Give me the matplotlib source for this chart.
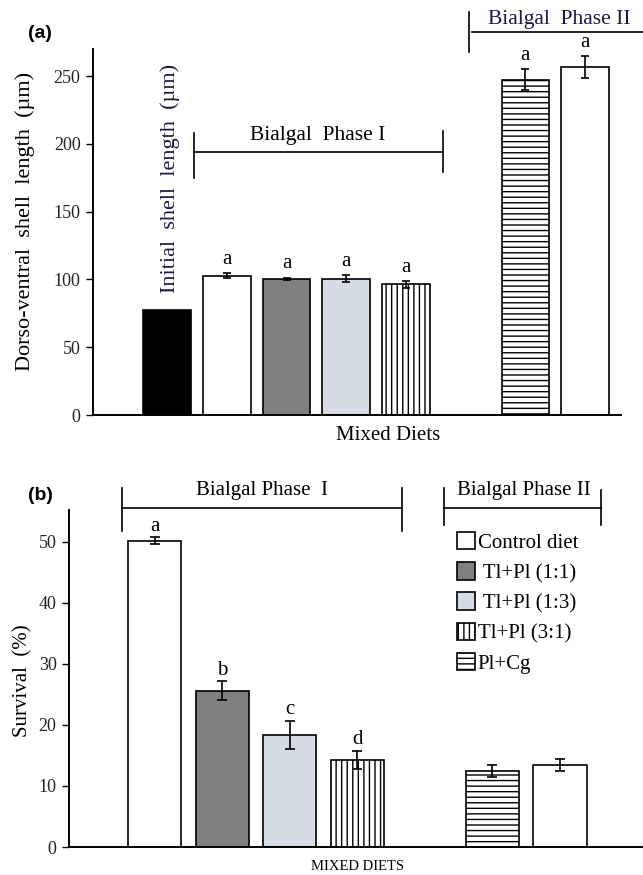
import numpy as np
from matplotlib import pyplot as plt

plt.rcParams['font.family'] = ['Liberation Serif', 'DejaVu Serif']
plt.rcParams['hatch.linewidth'] = 1.0
plt.rcParams['hatch.color'] = 'black'

# panel (a): dorso-ventral shell length (um)
len_pos = [0, 1, 2, 3, 4, 6, 7]
len_vals = [77.5, 102.8, 100.6, 100.6, 96.3, 247.5, 256.5]
len_err = [0, 1.8, 0.8, 2.7, 2.5, 7.5, 8.0]
len_letters = ['', 'a', 'a', 'a', 'a', 'a', 'a']

# panel (b): survival (%)
surv_pos = [0, 1, 2, 3, 5, 6]
surv_vals = [50.2, 25.6, 18.4, 14.3, 12.5, 13.4]
surv_err = [0.5, 1.6, 2.3, 1.5, 1.0, 1.0]
surv_letters = ['a', 'b', 'c', 'd', '', '']

# bar styles: (face colour, hatch)
styles_a = [('black', None), ('white', None), ('#808080', None),
            ('#d6dce5', None), ('white', '|||'), ('white', '---'),
            ('white', None)]
styles_b = styles_a[1:]

legend_labels = ['Control diet', ' Tl+Pl (1:1)', ' Tl+Pl (1:3)',
                 'Tl+Pl (3:1)', 'Pl+Cg']

W, H = 643, 875
fig = plt.figure(figsize=(W / 100, H / 100), dpi=100)


def _style_axes(ax):
    for s in ['top', 'right']:
        ax.spines[s].set_visible(False)
    for s in ['left', 'bottom']:
        ax.spines[s].set_linewidth(1.4)
    ax.set_xticks([])
    ax.tick_params(axis='y', direction='out', length=5, width=1,
                   labelsize=13, labelcolor='#222222', pad=4)


def _bracket(ax, x0, x1, y, t0, t1, t2, t3):
    ax.plot([x0, x1], [y, y], color='black', lw=1.2, clip_on=False)
    ax.plot([x0, x0], [t0, t1], color='black', lw=1.2, clip_on=False)
    ax.plot([x1, x1], [t2, t3], color='black', lw=1.2, clip_on=False)


# ---------------- panel (a)
ax = fig.add_axes([93 / W, 1 - 415 / H, 528 / W, 366 / H])
_style_axes(ax)
for p, v, e, (fc, hc) in zip(len_pos, len_vals, len_err, styles_a):
    ax.bar(p, v, width=0.8, color=fc, edgecolor='black', lw=1.2,
           hatch=hc, zorder=2)
    if e > 0:
        ax.errorbar(p, v, yerr=e, fmt='none', ecolor='black', elinewidth=1.2,
                    capsize=3, capthick=1.2, zorder=3)
for p, v, e, t in zip(len_pos, len_vals, len_err, len_letters):
    if t:
        ax.annotate(t, (p, v + e), xytext=(0, 3), textcoords='offset points',
                    ha='center', va='bottom', fontsize=15)
ax.set_xlim(-1.24, 7.6)
ax.set_ylim(0, 270)
ax.set_yticks([0, 50, 100, 150, 200, 250])

ax.text(0.05, 90, 'Initial  shell  length  (\u00b5m)', rotation=90,
        ha='center', va='bottom', fontsize=16, color='#1a1a40')
_bracket(ax, 0.45, 4.62, 194, 208, 175, 209.5, 179)
ax.text(2.53, 199, 'Bialgal  Phase I', ha='center', va='bottom', fontsize=15.5)
# phase II bracket is open on the right
ax.plot([5.06, 5.06], [268, 297], color='black', lw=1.2, clip_on=False)
ax.plot([5.1, 8.0], [282.5, 282.5], color='black', lw=1.2, clip_on=False)
ax.text(6.57, 285, 'Bialgal  Phase II', ha='center', va='bottom',
        fontsize=15.5, color='#1a1a40')

fig.text(25 / W, 1 - 221 / H, 'Dorso-ventral  shell  length  (\u00b5m)',
         rotation=90, ha='center', va='center', fontsize=16)
fig.text(388 / W, 1 - 436 / H, 'Mixed Diets', ha='center', va='center',
         fontsize=15)
fig.text(28 / W, 1 - 33 / H, '(a)', ha='left', va='center', fontsize=14,
         fontweight='bold', family='Liberation Sans')

# ---------------- panel (b)
ax2 = fig.add_axes([69 / W, 1 - 847 / H, 574 / W, 337 / H])
_style_axes(ax2)
handles = []
for p, v, e, (fc, hc) in zip(surv_pos, surv_vals, surv_err, styles_b):
    b = ax2.bar(p, v, width=0.79, color=fc, edgecolor='black', lw=1.2,
                hatch=hc, zorder=2)
    handles.append(b)
    ax2.errorbar(p, v, yerr=e, fmt='none', ecolor='black', elinewidth=1.2,
                 capsize=3.5, capthick=1.2, zorder=3)
for p, v, e, t in zip(surv_pos, surv_vals, surv_err, surv_letters):
    if t:
        ax2.annotate(t, (p, v + e), xytext=(0, 1), textcoords='offset points',
                     ha='center', va='bottom', fontsize=15)
ax2.set_xlim(-1.27, 7.23)
ax2.set_ylim(0, 55.2)
ax2.set_yticks([0, 10, 20, 30, 40, 50])

_bracket(ax2, -0.49, 3.66, 55.6, 58.8, 51.7, 58.8, 51.7)
ax2.text(1.59, 56.8, 'Bialgal Phase  I', ha='center', va='bottom',
         fontsize=15)
_bracket(ax2, 4.28, 6.61, 55.6, 58.8, 52.7, 58.5, 52.7)
ax2.text(5.47, 56.8, 'Bialgal Phase II', ha='center', va='bottom',
         fontsize=15)

ax2.legend(handles[:5], legend_labels, loc='upper left',
           bbox_to_anchor=(457 / W, 1 - 532 / H),
           bbox_transform=fig.transFigure, frameon=False, fontsize=15,
           handlelength=0.85, handleheight=0.9, handletextpad=0.15,
           labelspacing=0.45, borderpad=0, borderaxespad=0)

fig.text(23 / W, 1 - 681 / H, 'Survival  (%)', rotation=90, ha='center',
         va='center', fontsize=15)
fig.text(358 / W, 1 - 867 / H, 'MIXED DIETS', ha='center', va='center',
         fontsize=10.5)
fig.text(28 / W, 1 - 495 / H, '(b)', ha='left', va='center', fontsize=14,
         fontweight='bold', family='Liberation Sans')

fig.savefig('out.png', dpi=100)
